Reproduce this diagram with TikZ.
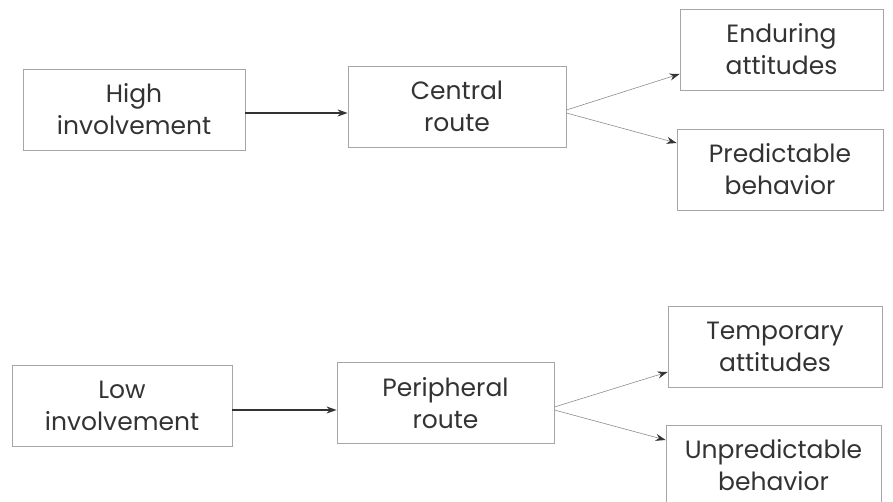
\documentclass[tikz,border=0pt]{standalone}
\usepackage{fontspec}
\setmainfont{Poppins}
\usetikzlibrary{arrows.meta}
\begin{document}
\begin{tikzpicture}[x=1pt, y=-1pt,
    box/.style={draw=black!35, line width=0.8pt, text=black!80, align=center,
        minimum height=81pt, font=\fontsize{25}{32}\selectfont},
    mainarrow/.style={-{Stealth[length=10pt,width=7pt]}, line width=1.6pt, black!80},
    sidearrow/.style={-{Stealth[length=10pt,width=7pt,color=black!80]}, line width=0.6pt, black!45}]
    \useasboundingbox (0,0) rectangle (893,502);

    \node[box, minimum width=222pt] (high) at (134,109.5) {High\\involvement};
    \node[box, minimum width=218pt] (central) at (457,106.5) {Central\\route};
    \node[box, minimum width=203pt] (enduring) at (781.5,49.5) {Enduring\\attitudes};
    \node[box, minimum width=206pt] (predictable) at (780,169.5) {Predictable\\behavior};

    \node[box, minimum width=220pt] (low) at (122,406) {Low\\involvement};
    \node[box, minimum width=217pt] (peripheral) at (445.5,403) {Peripheral\\route};
    \node[box, minimum width=214pt] (temporary) at (775,346.5) {Temporary\\attitudes};
    \node[box, minimum width=215pt] (unpredictable) at (773.5,465.5) {Unpredictable\\behavior};

    \draw[mainarrow] ([yshift=-3.5pt]high.east) -- ([yshift=-3.5pt]high.east -| central.west);
    \draw[sidearrow] ([yshift=-3.5pt]central.east) -- ([yshift=-24.5pt]enduring.west);
    \draw[sidearrow] ([yshift=-6.5pt]central.east) -- ([yshift=26.5pt]predictable.west);

    \draw[mainarrow] ([yshift=-4pt]low.east) -- ([yshift=-4pt]low.east -| peripheral.west);
    \draw[sidearrow] ([yshift=-4pt]peripheral.east) -- ([yshift=-25.5pt]temporary.west);
    \draw[sidearrow] ([yshift=-7pt]peripheral.east) -- ([yshift=25.5pt]unpredictable.west);
\end{tikzpicture}
\end{document}
